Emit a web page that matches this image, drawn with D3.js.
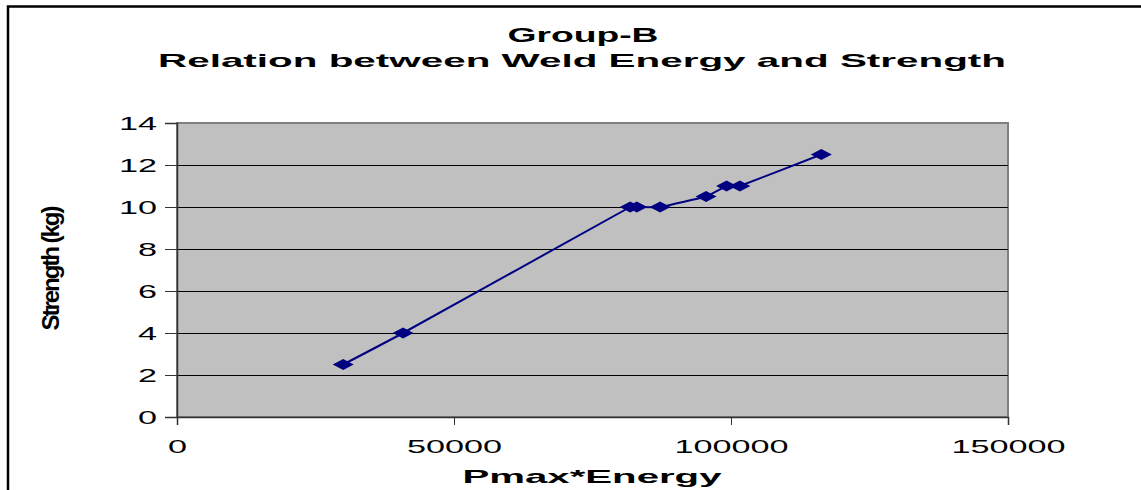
<!DOCTYPE html>
<html>
<head>
<meta charset="utf-8">
<script src="https://cdn.jsdelivr.net/npm/d3@7"></script>
<style>
  html, body { margin: 0; padding: 0; background: #fff; }
  svg { display: block; }
  text { font-family: Arial, "Liberation Sans", sans-serif; fill: #000; }
</style>
</head>
<body>
<svg id="chart" width="1141" height="490"></svg>
<script>
// Pmax*Energy (x) against weld strength (y), Group-B samples
const energy   = [30000, 40800, 81800, 83000, 87200, 95500, 99200, 101600, 116300];
const strength = [2.5, 4, 10, 10, 10, 10.5, 11, 11, 12.5];
const xTicks = [0, 50000, 100000, 150000];
const yTicks = [0, 2, 4, 6, 8, 10, 12, 14];
const titleLines = ["Group-B", "Relation between Weld Energy and Strength"];
const xTitle = "Pmax*Energy";
const yTitle = "Strength (kg)";

const svg = d3.select("#chart");
const plot = { left: 177, right: 1008, top: 123, bottom: 417 };
const stretch = 1.8; // wide glyphs used throughout the chart text

const x = d3.scaleLinear().domain([0, 150000]).range([plot.left, plot.right]);
const y = d3.scaleLinear().domain([0, 14]).range([plot.bottom, plot.top]);

// widen a text element horizontally by a fixed factor (or to a set width)
function widen(sel, target, mode) {
  sel.each(function () {
    const w = this.getComputedTextLength();
    d3.select(this)
      .attr("textLength", target != null ? target : w * stretch)
      .attr("lengthAdjust", mode || "spacingAndGlyphs");
  });
}

// outer chart frame
svg.append("rect")
  .attr("x", 8).attr("y", 6.5)
  .attr("width", 1200).attr("height", 600)
  .attr("fill", "none").attr("stroke", "#000").attr("stroke-width", 2.5);

// titles
svg.append("text").attr("x", 583).attr("y", 42)
  .attr("text-anchor", "middle").attr("font-size", 20).attr("font-weight", "bold")
  .text(titleLines[0]).call(widen, 151);
svg.append("text").attr("x", 582).attr("y", 67)
  .attr("text-anchor", "middle").attr("font-size", 19).attr("font-weight", "bold")
  .text(titleLines[1]).call(widen, 848);

// plot area
svg.append("rect")
  .attr("x", plot.left).attr("y", plot.top)
  .attr("width", plot.right - plot.left).attr("height", plot.bottom - plot.top)
  .attr("fill", "#c0c0c0").attr("stroke", "#808080").attr("stroke-width", 2);

// horizontal gridlines
svg.append("g").selectAll("line")
  .data(yTicks.filter(d => d > 0 && d < 14))
  .join("line")
  .attr("x1", plot.left).attr("x2", plot.right)
  .attr("y1", d => Math.round(y(d)) + 0.5).attr("y2", d => Math.round(y(d)) + 0.5)
  .attr("stroke", "#000").attr("stroke-width", 1.2);

// y axis
const yAxis = svg.append("g")
  .attr("transform", `translate(${plot.left},0)`)
  .call(d3.axisLeft(y).tickValues(yTicks).tickSize(12).tickPadding(8).tickFormat(d3.format("d")));
yAxis.select(".domain").attr("stroke", "#333").attr("stroke-width", 1.5);
yAxis.selectAll(".tick line").attr("stroke", "#333");
yAxis.selectAll(".tick text")
  .attr("font-size", 19).attr("font-family", "Arial, 'Liberation Sans', sans-serif")
  .attr("fill", "#000").attr("dy", "0.36em")
  .call(widen);

// x axis
const xAxis = svg.append("g")
  .attr("transform", `translate(0,${plot.bottom})`)
  .call(d3.axisBottom(x).tickValues(xTicks).tickSize(8).tickPadding(15).tickFormat(d3.format("d")));
xAxis.select(".domain").attr("stroke", "#333").attr("stroke-width", 1.5);
xAxis.selectAll(".tick line").attr("stroke", "#333");
xAxis.selectAll(".tick text")
  .attr("font-size", 19).attr("font-family", "Arial, 'Liberation Sans', sans-serif")
  .attr("fill", "#000")
  .call(widen);

// axis titles
svg.append("text").attr("x", 592).attr("y", 483)
  .attr("text-anchor", "middle").attr("font-size", 19).attr("font-weight", "bold")
  .text(xTitle).call(widen, 259);
// vertical title: large bold glyphs packed into a short run, so they crowd together
svg.append("text")
  .attr("transform", "translate(59,268) rotate(-90)")
  .attr("text-anchor", "middle").attr("font-size", 24).attr("font-weight", "bold")
  .text(yTitle).call(widen, 125, "spacing");

// gently smoothed data line
const pts = energy.map((e, i) => [e, strength[i]]);
svg.append("path")
  .datum(pts)
  .attr("fill", "none").attr("stroke", "#000080").attr("stroke-width", 2)
  .attr("d", d3.line().x(d => x(d[0])).y(d => y(d[1])).curve(d3.curveCardinal.tension(0.75)));

// diamond markers
svg.append("g").selectAll("path")
  .data(pts)
  .join("path")
  .attr("transform", d => `translate(${x(d[0])},${y(d[1])})`)
  .attr("d", "M-10.5,0L0,-5.5L10.5,0L0,5.5Z")
  .attr("fill", "#000080");
</script>
</body>
</html>
